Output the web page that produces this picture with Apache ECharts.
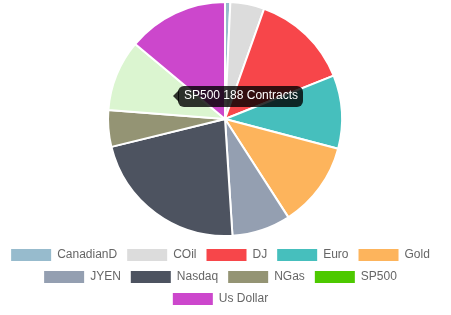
<!DOCTYPE html>
<html>
<head>
<meta charset="utf-8">
<script src="https://cdn.jsdelivr.net/npm/echarts@6/dist/echarts.min.js"></script>
<style>
html,body{margin:0;padding:0;background:#fff;}
#c{width:441px;height:315px;}
</style>
</head>
<body>
<div id="c"></div>
<script>
const categories = ['CanadianD','COil','DJ','Euro','Gold','JYEN','Nasdaq','NGas','SP500','Us Dollar'];
const contracts = [14, 90, 259, 194, 226, 155, 425, 97, 188, 267];
const sliceColors = ['#97bbcd','#dcdcdc','#f7464a','#46bfbd','#fdb45c','#949fb1','#4d5360','#949474','#dbf5d0','#cc47cc'];
const legendColors = ['#97bbcd','#dcdcdc','#f7464a','#46bfbd','#fdb45c','#949fb1','#4d5360','#949474','#4dc900','#cc47cc'];
const legendRows = [[0,1,2,3,4],[5,6,7,8],[9]];
const highlighted = 8;

const font = '"Liberation Sans", Arial, Helvetica, sans-serif';
const chart = echarts.init(document.getElementById('c'), null, {renderer:'canvas'});

const legendTops = [249, 271, 293];
const legends = legendRows.map((row, r) => ({
  orient: 'horizontal',
  left: 'center',
  top: legendTops[r],
  padding: 0,
  itemWidth: 40,
  itemHeight: 12,
  itemGap: 10,
  icon: 'rect',
  selectedMode: false,
  textStyle: {fontSize: 12, color: '#666', fontFamily: font, padding: [0,0,0,1]},
  data: row.map(i => ({name: categories[i], itemStyle: {color: legendColors[i], borderWidth: 0}}))
}));

const tipText = categories[highlighted] + ' ' + contracts[highlighted] + ' Contracts';

chart.setOption({
  animation: false,
  legend: legends,
  series: [{
    type: 'pie',
    center: [225, 119],
    radius: [0, 117],
    startAngle: 90,
    clockwise: true,
    label: {show: false},
    labelLine: {show: false},
    emphasis: {disabled: true},
    itemStyle: {borderColor: '#fff', borderWidth: 2},
    data: categories.map((n, i) => ({name: n, value: contracts[i], itemStyle: {color: sliceColors[i]}}))
  }],
  graphic: [{
    type: 'group',
    left: 173,
    top: 86,
    z: 100,
    children: [
      {type: 'polygon', z: 100, shape: {points: [[0,10],[6,4],[6,16]]}, style: {fill: 'rgba(0,0,0,0.8)'}},
      {type: 'rect', z: 100, shape: {x: 5, y: 0, width: 125, height: 21, r: 6}, style: {fill: 'rgba(0,0,0,0.8)'}},
      {type: 'text', z: 101, x: 11, y: 4, style: {text: tipText, fill: '#fff', font: '12px ' + font}}
    ]
  }]
});
</script>
</body>
</html>
